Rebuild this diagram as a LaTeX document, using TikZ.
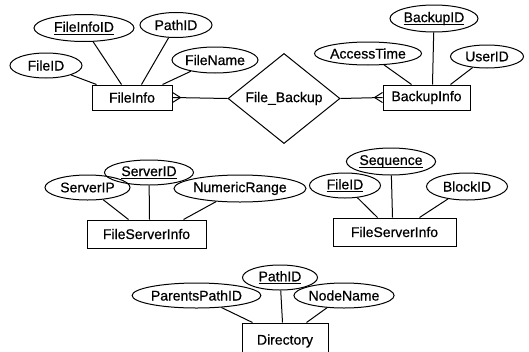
\documentclass[tikz,border=0pt]{standalone}
\usepackage{fontspec}
\setmainfont{Liberation Sans}[FakeBold=0.6]
\usetikzlibrary{shapes.geometric,calc}
% key attribute: underline set just below the baseline
\newcommand\keyattr[1]{\setbox0\hbox{#1}\rlap{\rule[-2.6pt]{\wd0}{0.8pt}}\box0}
\begin{document}
\begin{tikzpicture}[x=1pt,y=-1pt,
  every node/.style={font=\fontsize{14}{16}\selectfont, inner sep=0pt},
  attr/.style={draw, ellipse, line width=1pt},
  entity/.style={draw, rectangle, line width=1pt},
  rel/.style={draw, diamond, line width=1pt},
  link/.style={line width=1pt}]
\useasboundingbox (0,0) rectangle (529,351);
\clip (0,0) rectangle (529,351);

% FileInfo entity and its attributes
\node[entity, minimum width=80, minimum height=25] (fi) at (132,97.5) {FileInfo};
\node[attr, minimum width=100, minimum height=27] (fiid) at (84,28) {\keyattr{FileInfoID}};
\node[attr, minimum width=72, minimum height=25] (fipath) at (176,25) {PathID};
\node[attr, minimum width=72, minimum height=25] (fifile) at (46,65.5) {FileID};
\node[attr, minimum width=86, minimum height=26] (finame) at (215,60) {FileName};
\draw[link] (fifile) -- ($(fi.north west)+(5,0)$);
\draw[link] (fiid) -- ($(fi.north west)+(30,0)$);
\draw[link] (fipath) -- ($(fi.north west)+(50,0)$);
\draw[link] (finame) -- ($(fi.north west)+(71,0)$);

% File_Backup relationship
\node[rel, minimum width=112, minimum height=63] (fb) at (284,98.5) {File\_Backup};

% BackupInfo entity and its attributes
\node[entity, minimum width=87, minimum height=25] (bi) at (426.5,97.5) {BackupInfo};
\node[attr, minimum width=88, minimum height=27] (biid) at (434,18.5) {\keyattr{BackupID}};
\node[attr, minimum width=104, minimum height=23] (bitime) at (368,53.5) {AccessTime};
\node[attr, minimum width=73, minimum height=23] (biuser) at (487,56.5) {UserID};
\draw[link] (bitime) -- ($(bi.north west)+(29,0)$);
\draw[link] (biid) -- ($(bi.north west)+(50,0)$);
\draw[link] (biuser) -- ($(bi.north west)+(68,0)$);

% many-side connectors with crow's feet
\draw[link] (fi.east) -- (fb.west);
\coordinate (cfa) at ($(fi.east)+(8,0)$);
\draw[link] ($(fi.east)+(0,-5)$) -- (cfa) -- ($(fi.east)+(0,5)$);
\draw[link] (fb.east) -- (bi.west);
\coordinate (cfb) at ($(bi.west)+(-8,0)$);
\draw[link] ($(bi.west)+(0,-5)$) -- (cfb) -- ($(bi.west)+(0,5)$);

% FileServerInfo (servers)
\node[entity, minimum width=119, minimum height=28] (fs) at (146.5,234) {FileServerInfo};
\node[attr, minimum width=89, minimum height=25] (fsid) at (149,172.5) {\keyattr{ServerID}};
\node[attr, minimum width=85, minimum height=25] (fsip) at (87.5,187.5) {ServerIP};
\node[attr, minimum width=126, minimum height=27] (fsrange) at (240,188.5) {NumericRange};
\draw[link] (fsip) -- ($(fs.north west)+(42,0)$);
\draw[link] (fsid) -- ($(fs.north west)+(63,0)$);
\draw[link] (fsrange) -- ($(fs.north west)+(97,0)$);

% FileServerInfo (blocks)
\node[entity, minimum width=123, minimum height=28] (fb2) at (394.5,232) {FileServerInfo};
\node[attr, minimum width=89, minimum height=27] (seq) at (391,161.5) {\keyattr{Sequence}};
\node[attr, minimum width=71, minimum height=25] (bfile) at (345,185.5) {\keyattr{FileID}};
\node[attr, minimum width=81, minimum height=27] (bblock) at (467,186.5) {BlockID};
\draw[link] (bfile) -- ($(fb2.north west)+(45,0)$);
\draw[link] (seq) -- ($(fb2.north west)+(60,0)$);
\draw[link] (bblock) -- ($(fb2.north west)+(87,0)$);

% Directory entity and its attributes
\node[entity, minimum width=86, minimum height=36] (dir) at (285,341) {Directory};
\node[attr, minimum width=75, minimum height=25] (dpath) at (280,277.5) {\keyattr{PathID}};
\node[attr, minimum width=123, minimum height=25] (dparent) at (196.5,295.5) {ParentsPathID};
\node[attr, minimum width=88, minimum height=25] (dname) at (344,295.5) {NodeName};
\draw[link] (dparent) -- ($(dir.north west)+(11,0)$);
\draw[link] (dpath) -- ($(dir.north west)+(41,0)$);
\draw[link] (dname) -- ($(dir.north west)+(65,0)$);
\end{tikzpicture}
\end{document}
